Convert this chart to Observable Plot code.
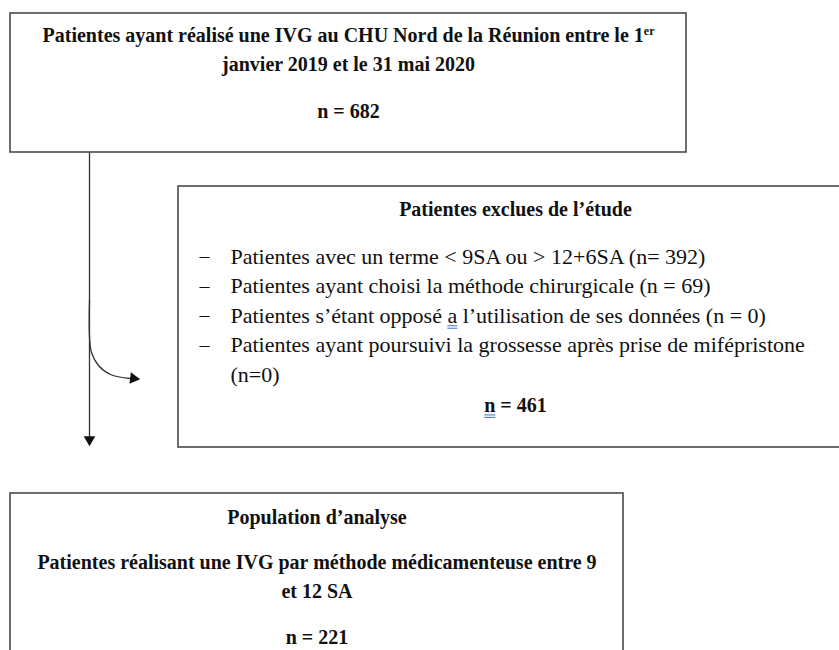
<!DOCTYPE html>
<html>
<head>
<meta charset="utf-8">
<script src="https://cdn.jsdelivr.net/npm/d3@7"></script>
<script src="https://cdn.jsdelivr.net/npm/@observablehq/plot@0.6"></script>
<style>
  html, body { margin: 0; padding: 0; background: #fff; }
  #chart { width: 839px; height: 650px; overflow: hidden; }
</style>
</head>
<body>
<div id="chart"></div>
<script>
// ---------- content ----------
const stageTitles = [
  ["Patientes ayant réalisé une IVG au CHU Nord de la Réunion entre le 1er", "janvier 2019 et le 31 mai 2020"],
  ["Patientes exclues de l’étude"],
  ["Population d’analyse", "Patientes réalisant une IVG par méthode médicamenteuse entre 9", "et 12 SA"]
];
const stageCounts = [682, 461, 221];
const exclusionCriteria = [
  "Patientes avec un terme < 9SA ou > 12+6SA",
  "Patientes ayant choisi la méthode chirurgicale",
  "Patientes s’étant opposé a l’utilisation de ses données",
  "Patientes ayant poursuivi la grossesse après prise de mifépristone"
];
const exclusionCounts = [392, 69, 0, 0];
const countPrefixes = ["(n= ", "(n = ", "(n = ", "(n="];
const wrapCount = [false, false, false, true];

// ---------- layout ----------
const W = 839, H = 650;
const boxes = [
  {x1: 10, x2: 686, y1: 13, y2: 152},
  {x1: 178, x2: 852, y1: 186, y2: 447},
  {x1: 10, x2: 623, y1: 493, y2: 670}
];
const cx = b => (b.x1 + b.x2) / 2;
const box1Y = [35, 64, 111];
const box2TitleY = 209, bulletTop = 256, bulletStep = 29.6, dashX = 204, bulletX = 230, box2CountY = 405;
const box3Y = [517, 562, 591, 637];
const mainX = 89, mainTop = 152, mainTip = 446;
const branchPts = [[89, 300], [89, 336], [91, 352], [98, 365], [110, 374], [130, 378]];
const branchTip = [140, 378];

// ---------- text rows ----------
const boldRows = [];
const regRows = [];
stageTitles[0].forEach((t, i) => boldRows.push({text: t, x: cx(boxes[0]), y: box1Y[i]}));
boldRows.push({text: `n = ${stageCounts[0]}`, x: cx(boxes[0]), y: box1Y[2]});
boldRows.push({text: stageTitles[1][0], x: cx(boxes[1]), y: box2TitleY});
boldRows.push({text: `n = ${stageCounts[1]}`, x: cx(boxes[1]), y: box2CountY});
stageTitles[2].forEach((t, i) => boldRows.push({text: t, x: cx(boxes[2]), y: box3Y[i]}));
boldRows.push({text: `n = ${stageCounts[2]}`, x: cx(boxes[2]), y: box3Y[3]});

const dashRows = [];
let line = 0;
exclusionCriteria.forEach((c, i) => {
  const y = bulletTop + line * bulletStep;
  dashRows.push({text: "–", x: dashX, y});
  const cnt = `${countPrefixes[i]}${exclusionCounts[i]})`;
  if (wrapCount[i]) {
    regRows.push({text: c, x: bulletX, y});
    line++;
    regRows.push({text: cnt, x: bulletX, y: bulletTop + line * bulletStep});
  } else {
    regRows.push({text: `${c} ${cnt}`, x: bulletX, y});
  }
  line++;
});

const serif = "Liberation Serif, Times New Roman, serif";

const chart = Plot.plot({
  width: W,
  height: H,
  margin: 0,
  x: {domain: [0, W], range: [0, W], axis: null},
  y: {domain: [0, H], range: [0, H], axis: null},
  style: {background: "white"},
  marks: [
    Plot.rect(boxes, {x1: "x1", x2: "x2", y1: "y1", y2: "y2", fill: "white", stroke: "#4a4a4a", strokeWidth: 1.6}),
    Plot.link([{x1: mainX, y1: mainTop, x2: mainX, y2: mainTip - 6}], {x1: "x1", y1: "y1", x2: "x2", y2: "y2", stroke: "#333", strokeWidth: 1.3}),
    Plot.line(branchPts, {x: d => d[0], y: d => d[1], curve: "catmull-rom", stroke: "#333", strokeWidth: 1.3}),
    Plot.dot([[mainX, mainTip - 7]], {x: d => d[0], y: d => d[1], symbol: "triangle", r: 4.3, rotate: 180, fill: "#111", stroke: "none"}),
    Plot.dot([[branchTip[0] - 7, branchTip[1]]], {x: d => d[0], y: d => d[1], symbol: "triangle", r: 4.3, rotate: 97, fill: "#111", stroke: "none"}),
    Plot.text(boldRows, {x: "x", y: "y", text: "text", textAnchor: "middle", fontSize: 20, fontWeight: "bold", fontFamily: serif, fill: "#111"}),
    Plot.text(dashRows, {x: "x", y: "y", text: "text", textAnchor: "middle", fontSize: 20, fontFamily: serif, fill: "#111"}),
    Plot.text(regRows, {x: "x", y: "y", text: "text", textAnchor: "start", fontSize: 22, fontFamily: serif, fill: "#111"})
  ]
});

document.getElementById("chart").appendChild(chart);

// superscript "er"
for (const t of chart.querySelectorAll("text")) {
  const s = t.textContent;
  if (s.endsWith("1er") && t.childElementCount === 0) {
    t.textContent = s.slice(0, -2);
    const sup = document.createElementNS("http://www.w3.org/2000/svg", "tspan");
    sup.setAttribute("font-size", "12");
    sup.setAttribute("dy", "-7");
    sup.textContent = "er";
    t.appendChild(sup);
  }
}

// blue double underlines (Word proofing marks)
function underline(match, offset) {
  for (const t of chart.querySelectorAll("text")) {
    const s = t.textContent;
    const k = s.indexOf(match);
    if (k < 0 || t.childElementCount) continue;
    const idx = k + offset;
    const a = t.getStartPositionOfChar(idx);
    const b = t.getEndPositionOfChar(idx);
    for (const dy of [3, 5.5]) {
      const l = document.createElementNS("http://www.w3.org/2000/svg", "line");
      l.setAttribute("x1", a.x); l.setAttribute("x2", b.x);
      l.setAttribute("y1", a.y + dy); l.setAttribute("y2", a.y + dy);
      l.setAttribute("stroke", "#4f7ad0");
      l.setAttribute("stroke-width", "1.1");
      const tr = t.getAttribute("transform");
      if (tr) l.setAttribute("transform", tr);
      t.parentNode.appendChild(l);
    }
  }
}
underline("opposé a ", 7);
underline(`n = ${stageCounts[1]}`, 0);
</script>
</body>
</html>
